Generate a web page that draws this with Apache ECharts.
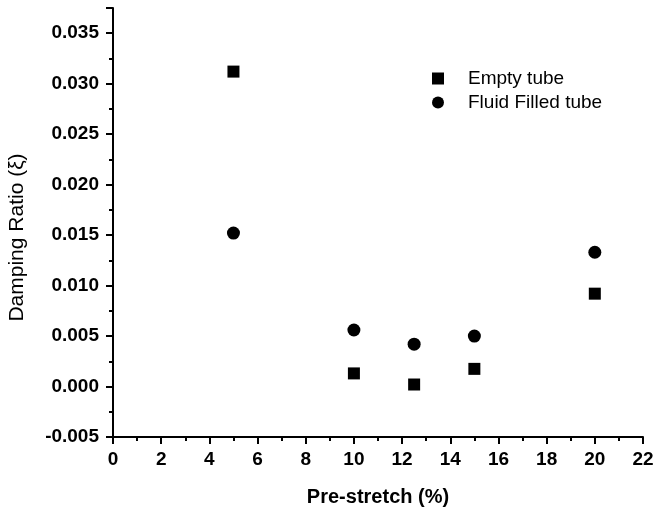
<!DOCTYPE html>
<html>
<head>
<meta charset="utf-8">
<script src="https://cdn.jsdelivr.net/npm/echarts@6/dist/echarts.min.js"></script>
<style>
html,body{margin:0;padding:0;background:#fff;}
#chart{width:654px;height:511px;}
</style>
</head>
<body>
<div id="chart"></div>
<script>
// pre-stretch (%) values
var stretch = [5, 10, 12.5, 15, 20];
// damping ratio
var emptyTube = [0.0312, 0.0013, 0.0002, 0.00175, 0.0092];
var fluidTube = [0.0152, 0.0056, 0.0042, 0.0050, 0.0133];

function pairs(xs, ys){
    return xs.map(function(x, i){ return [x, ys[i]]; });
}

var chart = echarts.init(document.getElementById('chart'));
var font = 'Liberation Sans, Arial, sans-serif';

var option = {
    animation: false,
    backgroundColor: '#fff',
    grid: {
        left: 113,
        right: 11,
        top: 8,
        bottom: 74,
        containLabel: false,
        outerBoundsMode: 'none'
    },
    legend: {
        orient: 'vertical',
        left: 427,
        top: 64,
        itemWidth: 12,
        itemHeight: 12,
        itemGap: 5,
        textStyle: {
            color: '#000',
            fontSize: 19,
            lineHeight: 19,
            fontFamily: font,
            padding: [0, 0, 0, 19]
        },
        data: [
            { name: 'Empty tube', icon: 'rect' },
            { name: 'Fluid Filled tube', icon: 'circle' }
        ]
    },
    xAxis: {
        type: 'value',
        min: 0,
        max: 22,
        interval: 2,
        name: 'Pre-stretch (%)',
        nameLocation: 'middle',
        nameGap: 50,
        nameTextStyle: {
            color: '#000',
            fontSize: 20,
            fontWeight: 'bold',
            fontFamily: font
        },
        axisLine: { show: true, onZero: false, lineStyle: { color: '#000', width: 2 } },
        axisTick: { show: true, inside: false, length: 7, lineStyle: { color: '#000', width: 2 } },
        minorTick: { show: true, splitNumber: 2, length: 4, lineStyle: { color: '#000', width: 2 } },
        axisLabel: {
            color: '#000',
            fontSize: 19,
            fontWeight: 'bold',
            fontFamily: font,
            margin: 13
        },
        splitLine: { show: false }
    },
    yAxis: {
        type: 'value',
        min: -0.005,
        max: 0.0375,
        interval: 0.005,
        name: 'Damping Ratio (ξ)',
        nameLocation: 'middle',
        nameGap: 85,
        nameTextStyle: {
            color: '#000',
            fontSize: 21,
            fontFamily: font,
            padding: [0, 30, 0, 0]
        },
        axisLine: { show: true, onZero: false, lineStyle: { color: '#000', width: 2 } },
        axisTick: { show: true, inside: false, length: 7, lineStyle: { color: '#000', width: 2 } },
        minorTick: { show: true, splitNumber: 2, length: 4, lineStyle: { color: '#000', width: 2 } },
        axisLabel: {
            color: '#000',
            fontSize: 19,
            fontWeight: 'bold',
            fontFamily: font,
            margin: 14,
            showMaxLabel: false,
            formatter: function(v){
                return v.toFixed(3);
            }
        },
        splitLine: { show: false }
    },
    series: [
        {
            name: 'Empty tube',
            type: 'scatter',
            symbol: 'rect',
            symbolSize: 12,
            itemStyle: { color: '#000', opacity: 1 },
            data: pairs(stretch, emptyTube)
        },
        {
            name: 'Fluid Filled tube',
            type: 'scatter',
            symbol: 'circle',
            symbolSize: 13,
            itemStyle: { color: '#000', opacity: 1 },
            data: pairs(stretch, fluidTube)
        }
    ]
};

chart.setOption(option);
</script>
</body>
</html>
